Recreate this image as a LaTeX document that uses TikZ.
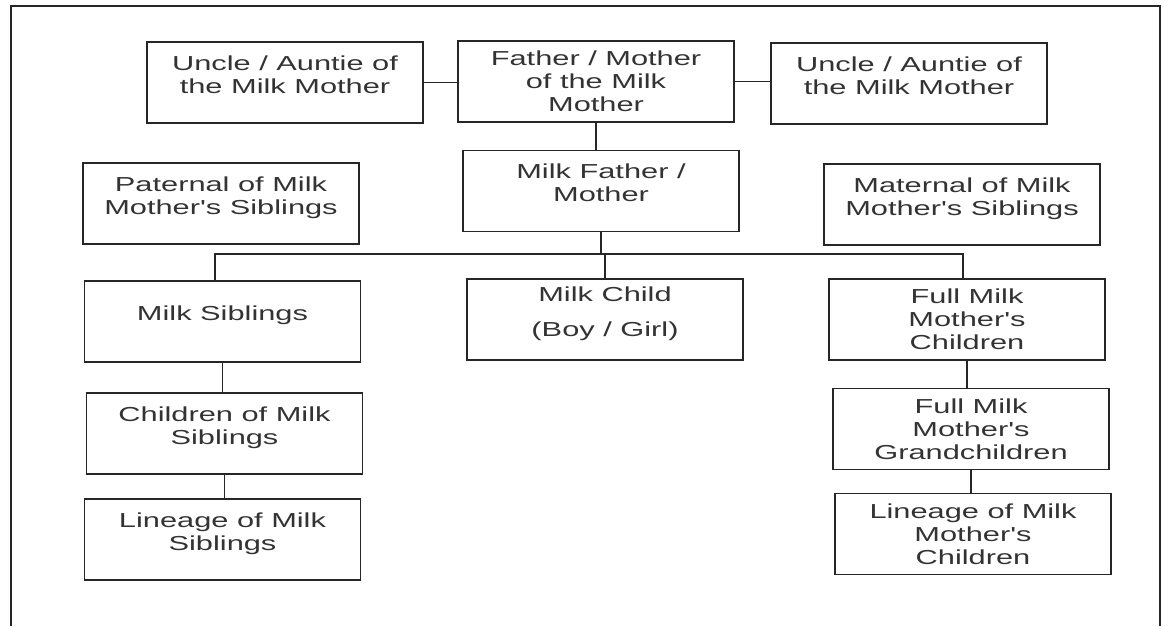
\documentclass[tikz,border=0pt]{standalone}
\usepackage{fontspec}
\newfontfamily\boxfont[FakeStretch=1.52]{Liberation Sans}
\usepackage{tikz}
\usetikzlibrary{calc}

\begin{document}
\begin{tikzpicture}[x=0.025cm,y=-0.025cm,
  kinbox/.style={draw=black!85, line width=0.8pt, minimum width=6.9cm, minimum height=2.025cm,
    align=center, inner sep=0pt, text=black!80, font=\boxfont\fontsize{14.4}{16.4}\selectfont},
  lifted/.style={text depth=11.5pt},
  kinline/.style={draw=black!85, line width=0.8pt}]
\useasboundingbox (0,0) rectangle (1168,626);
\draw[line width=1pt, black!85] (11,626) -- (11,6) -- (1160,6) -- (1160,626);

\node[kinbox, lifted] (uncleL) at (285,82.5) {Uncle / Auntie of\\the Milk Mother};
\node[kinbox] (fatherMM) at (596,81.5) {Father / Mother\\of the Milk\\Mother};
\node[kinbox, lifted] (uncleR) at (909,83.5) {Uncle / Auntie of\\the Milk Mother};
\node[kinbox, lifted] (milkParent) at (601,191) {Milk Father /\\Mother};
\node[kinbox, lifted] (paternal) at (221,203.5) {Paternal of Milk\\Mother's Siblings};
\node[kinbox, lifted] (maternal) at (962,204.5) {Maternal of Milk\\Mother's Siblings};

\node[kinbox, lifted] (milkSib) at (222.5,321.5) {Milk Siblings};
\node[kinbox, lifted] (milkChild) at (605,319.5) {Milk Child\\[0.3cm](Boy / Girl)};
\node[kinbox] (fullChildren) at (967,319.5) {Full Milk\\Mother's\\Children};

\node[kinbox, lifted] (childSib) at (224.5,433.5) {Children of Milk\\Siblings};
\node[kinbox, lifted] (lineageSib) at (222.5,539.5) {Lineage of Milk\\Siblings};
\node[kinbox] (fullGrand) at (971,429) {Full Milk\\Mother's\\Grandchildren};
\node[kinbox] (lineageChildren) at (973,534) {Lineage of Milk\\Mother's\\Children};

\coordinate (busL) at (215,254);
\coordinate (busR) at (963,254);

\draw[kinline] (uncleL.east) -- (uncleL.east -| fatherMM.west);
\draw[kinline] (fatherMM.east) -- (fatherMM.east -| uncleR.west);
\draw[kinline] (fatherMM.south) -- (fatherMM.south |- milkParent.north);
\draw[kinline] (milkParent.south) -- (milkParent.south |- busL);
\draw[kinline] (busL |- milkSib.north) -- (busL) -- (busR) -- (busR |- fullChildren.north);
\draw[kinline] (milkChild.north) -- (milkChild.north |- busL);

\draw[kinline] (milkSib.south) -- (milkSib.south |- childSib.north);
\draw[kinline] (childSib.south) -- (childSib.south |- lineageSib.north);
\draw[kinline] (fullChildren.south) -- (fullChildren.south |- fullGrand.north);
\draw[kinline] (fullGrand.south) -- (fullGrand.south |- lineageChildren.north);
\end{tikzpicture}
\end{document}
